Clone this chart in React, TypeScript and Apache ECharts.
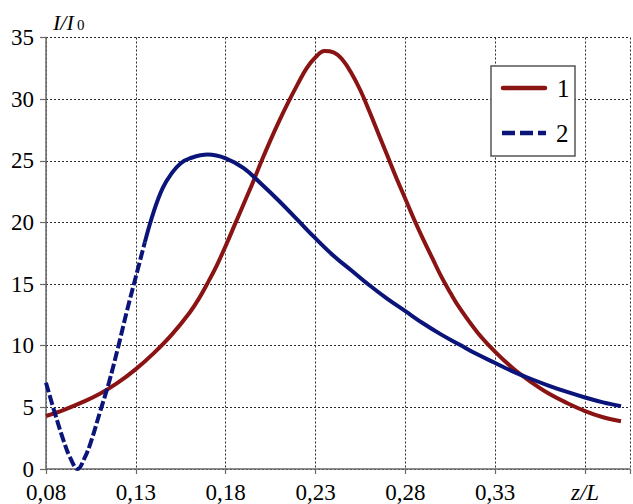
import React, { useEffect, useRef } from 'react';
import * as echarts from 'echarts';

const curve1X = [0.08, 0.09, 0.1, 0.11, 0.12, 0.13, 0.14, 0.15, 0.16, 0.165, 0.17, 0.175, 0.18, 0.185, 0.19, 0.195, 0.2, 0.205, 0.21, 0.215, 0.22, 0.225, 0.23, 0.235, 0.24, 0.245, 0.25, 0.255, 0.26, 0.265, 0.27, 0.275, 0.28, 0.285, 0.29, 0.295, 0.3, 0.305, 0.31, 0.32, 0.33, 0.34, 0.35, 0.36, 0.37, 0.38, 0.39, 0.4];
const curve1Y = [4.3, 4.8, 5.4, 6.1, 7.0, 8.1, 9.4, 10.9, 12.7, 13.8, 15.1, 16.5, 18.1, 19.8, 21.5, 23.2, 25.0, 26.7, 28.3, 29.8, 31.2, 32.5, 33.4, 33.9, 33.8, 33.2, 32.1, 30.7, 29.0, 27.2, 25.4, 23.6, 21.9, 20.2, 18.6, 17.1, 15.6, 14.3, 13.1, 11.1, 9.5, 8.15, 7.05, 6.1, 5.35, 4.7, 4.2, 3.87];

const curve2X = [0.08, 0.085, 0.09, 0.0935, 0.0976, 0.1015, 0.105, 0.11, 0.115, 0.12, 0.125, 0.13, 0.135, 0.14, 0.145, 0.15, 0.155, 0.16, 0.17, 0.18, 0.19, 0.2, 0.21, 0.22, 0.23, 0.24, 0.25, 0.26, 0.27, 0.28, 0.29, 0.3, 0.31, 0.32, 0.33, 0.34, 0.35, 0.36, 0.37, 0.38, 0.39, 0.4];
const curve2Y = [7.0, 4.5, 2.2, 0.9, 0.0, 0.9, 2.2, 4.6, 7.0, 9.8, 12.8, 15.6, 18.4, 20.9, 22.8, 24.0, 24.8, 25.2, 25.5, 25.2, 24.4, 23.1, 21.7, 20.2, 18.7, 17.3, 16.1, 14.9, 13.8, 12.8, 11.8, 10.9, 10.1, 9.3, 8.6, 7.9, 7.3, 6.75, 6.25, 5.8, 5.4, 5.1];
const curve2DashEnd = 0.135;

const legendNames = ['1', '2'];
const xAxisTitle = 'z/L';
const xTitleTick = 0.38;

const RED = '#8a1414';
const BLUE = '#0b1579';
const FONT = 'Liberation Serif';

export default function App() {
  const ref = useRef<HTMLDivElement>(null);
  useEffect(() => {
    const chart = echarts.init(ref.current!, null, { renderer: 'svg' });
    const pts1 = curve1X.map((x, i) => [x, curve1Y[i]]);
    const pts2 = curve2X.map((x, i) => [x, curve2Y[i]]);
    const dashed = pts2.filter((p) => p[0] <= curve2DashEnd + 1e-9);
    const solid = pts2.filter((p) => p[0] >= curve2DashEnd - 1e-9);

    chart.setOption({
      animation: false,
      backgroundColor: '#fff',
      textStyle: { fontFamily: FONT },
      grid: { left: 46, top: 37.5, width: 595.8, height: 432.5, containLabel: false },
      xAxis: {
        type: 'value',
        min: 0.08,
        max: 0.405,
        interval: 0.05,
        axisLine: { show: true, onZero: false, lineStyle: { color: '#6a6a6a', width: 1.5 } },
        axisTick: { show: true, length: 5, lineStyle: { color: '#6a6a6a', width: 1.2 } },
        splitLine: { show: true, lineStyle: { color: '#2a2a2a', type: [2, 2], width: 1 } },
        axisLabel: {
          margin: 12,
          fontFamily: FONT,
          fontSize: 23,
          color: '#000',
          formatter: (v: number) => {
            if (Math.abs(v - xTitleTick) < 1e-6) return '{it|' + xAxisTitle + '}';
            if (v > 0.4) return '';
            return v.toFixed(2).replace('.', ',');
          },
          rich: { it: { fontFamily: FONT, fontSize: 23, fontStyle: 'italic', color: '#000' } },
        },
      },
      yAxis: {
        type: 'value',
        min: 0,
        max: 35,
        interval: 5,
        axisLine: { show: true, lineStyle: { color: '#6a6a6a', width: 1.5 } },
        axisTick: { show: true, length: 6, lineStyle: { color: '#6a6a6a', width: 1.2 } },
        splitLine: { show: true, lineStyle: { color: '#2a2a2a', type: [2, 2], width: 1 } },
        axisLabel: { margin: 12, fontFamily: FONT, fontSize: 23, color: '#000' },
      },
      graphic: [
        { type: 'text', left: 53, top: 11, style: { text: 'I/I', fontFamily: FONT, fontSize: 22, fontStyle: 'italic', fill: '#000' } },
        { type: 'text', left: 77, top: 17, style: { text: '0', fontFamily: FONT, fontSize: 15, fill: '#000' } },
        { type: 'rect', shape: { x: 491, y: 66, width: 84, height: 90 }, style: { fill: '#fff', stroke: '#555', lineWidth: 1.5 }, z: 10 },
        { type: 'line', shape: { x1: 503, y1: 88, x2: 545, y2: 88 }, style: { stroke: RED, lineWidth: 4.5, lineCap: 'round' }, z: 11 },
        { type: 'text', x: 557, y: 88, style: { text: legendNames[0], fontFamily: FONT, fontSize: 25, fill: '#000', verticalAlign: 'middle' }, z: 11 },
        { type: 'line', shape: { x1: 502, y1: 133, x2: 546, y2: 133 }, style: { stroke: BLUE, lineWidth: 4.5, lineDash: [13, 5], lineCap: 'butt' }, z: 11 },
        { type: 'text', x: 556, y: 133, style: { text: legendNames[1], fontFamily: FONT, fontSize: 25, fill: '#000', verticalAlign: 'middle' }, z: 11 },
      ],
      series: [
        {
          name: legendNames[0],
          type: 'line',
          data: pts1,
          smooth: 0.4,
          showSymbol: false,
          symbol: 'none',
          lineStyle: { color: RED, width: 4 },
          z: 3,
        },
        {
          name: legendNames[1],
          type: 'line',
          data: dashed,
          smooth: 0.4,
          showSymbol: false,
          symbol: 'none',
          lineStyle: { color: BLUE, width: 4, type: [10, 3] },
          z: 4,
        },
        {
          name: legendNames[1] + ' ',
          type: 'line',
          data: solid,
          smooth: 0.4,
          showSymbol: false,
          symbol: 'none',
          lineStyle: { color: BLUE, width: 4 },
          z: 4,
        },
      ],
    });
    return () => chart.dispose();
  }, []);
  return <div ref={ref} style={{ position: 'fixed', left: 0, top: 0, width: 633, height: 504 }} />;
}
